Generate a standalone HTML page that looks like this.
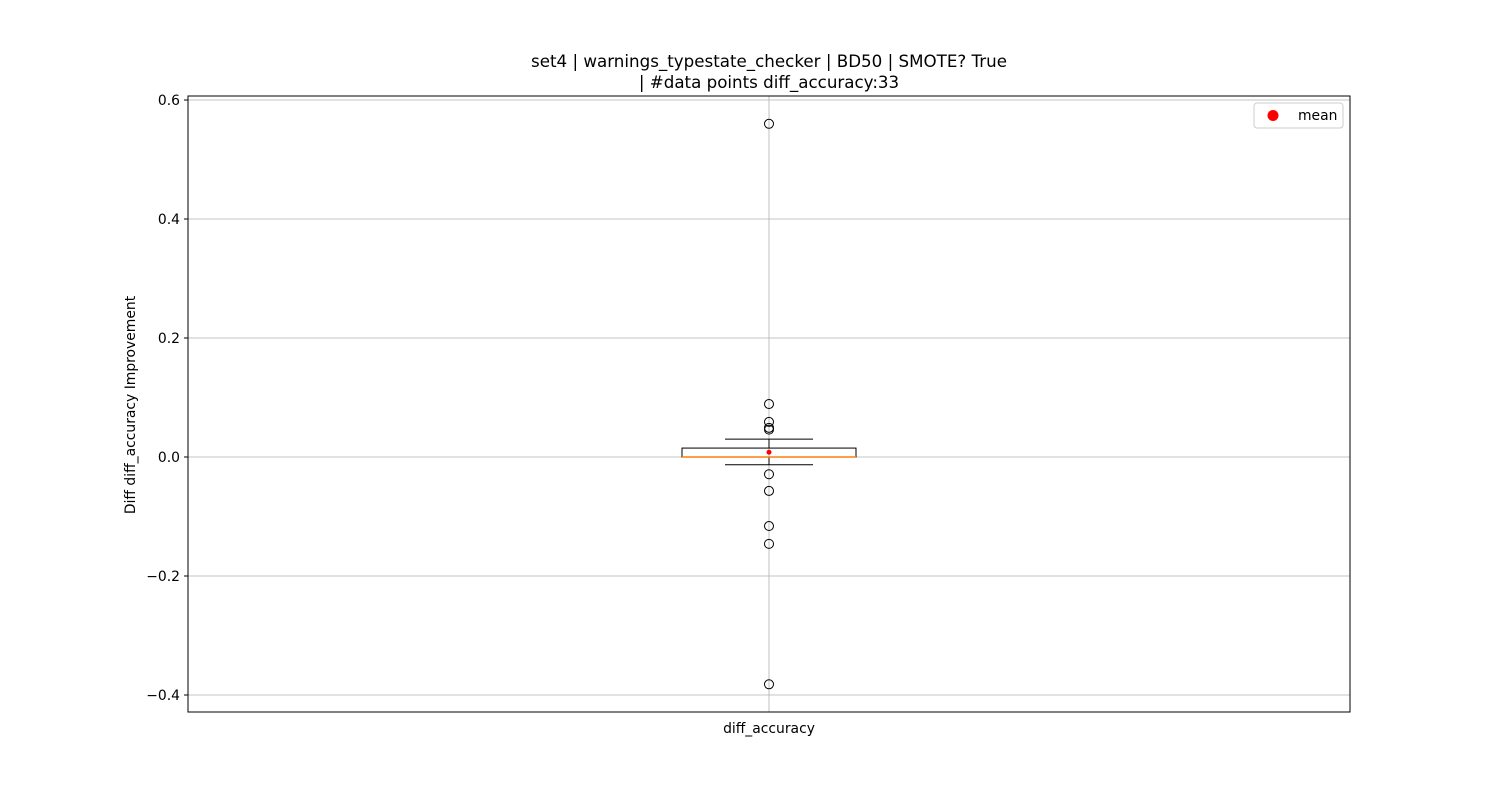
<!DOCTYPE html>
<html><head><meta charset="utf-8"><style>
body{margin:0;background:#fff}
svg text{font-family:"DejaVu Sans","Liberation Sans",sans-serif}
</style></head><body>
<svg id="chart" width="1500" height="800" xmlns="http://www.w3.org/2000/svg">
<rect width="1500" height="800" fill="#fff"/>
<text x="769" y="67" text-anchor="middle" font-size="16.7">set4 | warnings_typestate_checker | BD50 | SMOTE? True</text>
<text x="769" y="88" text-anchor="middle" font-size="16.7">| #data points diff_accuracy:33</text>
<g id="grid"></g>
<g id="yticks"></g>
<g id="box"></g>
<rect x="188" y="96" width="1162" height="616" fill="none" stroke="#000" stroke-width="1"/>
<text x="769" y="733" text-anchor="middle" font-size="13.9">diff_accuracy</text>
<text transform="translate(135,405) rotate(-90)" text-anchor="middle" font-size="13.9">Diff diff_accuracy Improvement</text>
<g>
<rect x="1254" y="103" width="89" height="25" rx="3" fill="#fff" stroke="#ccc"/>
<circle cx="1273" cy="115.5" r="5.5" fill="red"/>
<text x="1298" y="120" font-size="13.9">mean</text>
</g>
</svg>
<script>
const yTicks=[-0.4,-0.2,0.0,0.2,0.4,0.6];
const q1=[0.0], q3=[0.015], median=[0.0], whiskerLow=[-0.013], whiskerHigh=[0.030], meanVal=[0.008];
const outliers=[0.56,0.089,0.059,0.049,0.046,-0.029,-0.057,-0.116,-0.146,-0.382];
const NS="http://www.w3.org/2000/svg";
const y=v=>457-v*595;
const cx=769;
function mk(tag,attrs,parent){const e=document.createElementNS(NS,tag);for(const k in attrs)e.setAttribute(k,attrs[k]);parent.appendChild(e);return e;}
const grid=document.getElementById('grid'),yt=document.getElementById('yticks'),box=document.getElementById('box');
let l=mk('line',{x1:cx,x2:cx,y1:96,y2:712,stroke:'#b0b0b0','stroke-width':0.8},grid);


yTicks.forEach(t=>{
 const yy=y(t);
 let g=mk('line',{x1:188,x2:1350,y1:yy,y2:yy,stroke:'#b0b0b0','stroke-width':0.8},grid);
 
 
 let tk=mk('line',{x1:184,x2:188,y1:yy,y2:yy,stroke:'#000'},yt);
 
 
 let tx=mk('text',{x:180,y:yy+5,'text-anchor':'end','font-size':13.9},yt);
 tx.textContent=(t<0?'\u2212':'')+Math.abs(t).toFixed(1);
 
 
});
let w1=mk('line',{x1:cx,x2:cx,y1:y(q3[0]),y2:y(whiskerHigh[0]),stroke:'#000'},box);


let w2=mk('line',{x1:cx,x2:cx,y1:y(q1[0]),y2:y(whiskerLow[0]),stroke:'#000'},box);


let c1=mk('line',{x1:725,x2:813,y1:y(whiskerHigh[0]),y2:y(whiskerHigh[0]),stroke:'#000'},box);


let c2=mk('line',{x1:725,x2:813,y1:y(whiskerLow[0]),y2:y(whiskerLow[0]),stroke:'#000'},box);


let r=mk('rect',{x:682,width:174,y:y(q3[0]),height:Math.max(0.5,y(q1[0])-y(q3[0])),fill:'none',stroke:'#000'},box);


let m=mk('line',{x1:682,x2:856,y1:y(median[0]),y2:y(median[0]),stroke:'#ff7f0e','stroke-width':1.5},box);


outliers.forEach(v=>{
 let c=mk('circle',{cx:cx,cy:y(v),r:4.5,fill:'none',stroke:'#000'},box);
 
 
});
let mp=mk('circle',{cx:cx,cy:y(meanVal[0]),r:2.5,fill:'red'},box);


</script>
</body></html>
